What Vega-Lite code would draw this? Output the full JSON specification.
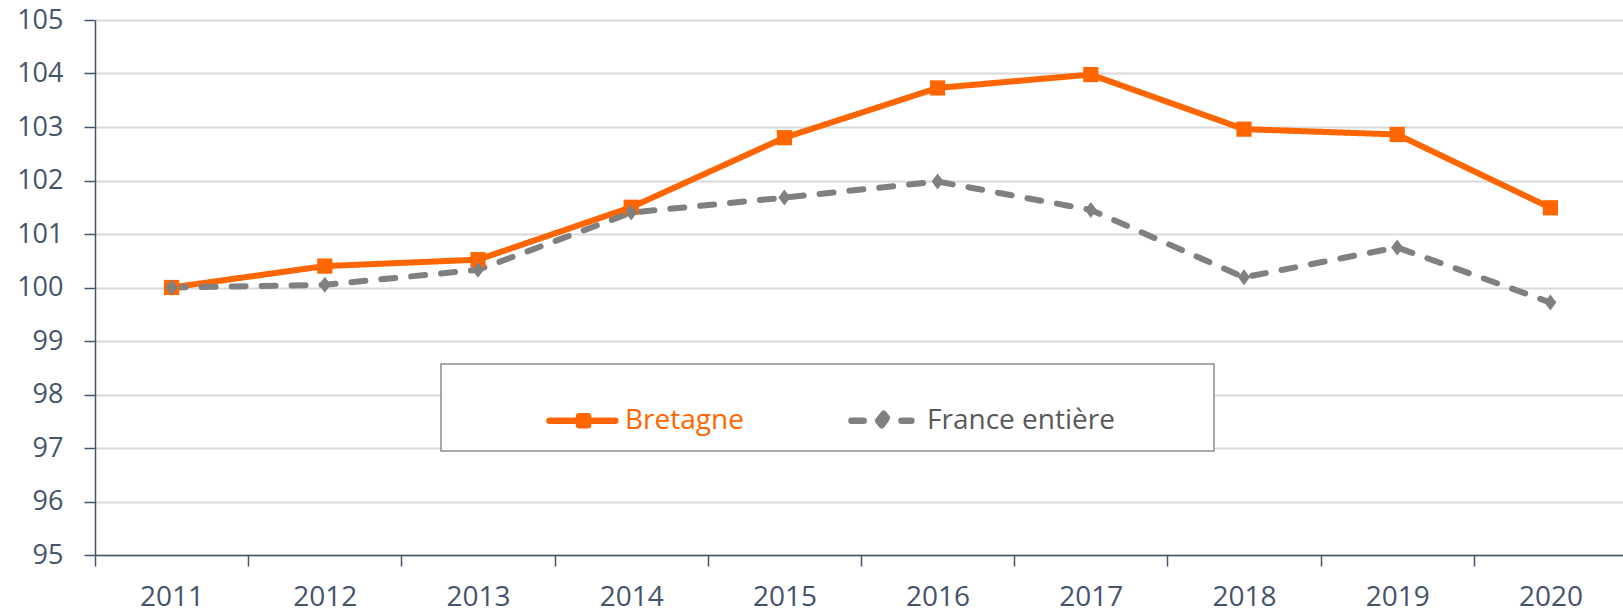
{
  "$schema": "https://vega.github.io/schema/vega-lite/v6.json",
  "autosize": {"type": "none"},
  "padding": {"left": 95, "top": 20, "right": 0, "bottom": 54},
  "width": 1532,
  "height": 535,
  "background": "white",
  "config": {
    "view": {"stroke": null},
    "font": "Open Sans",
    "axis": {"labelFont": "Open Sans", "labelFontSize": 26, "labelColor": "#44546A", "domainColor": "#44546A", "tickColor": "#44546A", "domainWidth": 1.5, "tickWidth": 1.5, "title": null}
  },
  "data": {
    "values": [
      {"year": "2011", "series": "Bretagne", "value": 100.0},
      {"year": "2012", "series": "Bretagne", "value": 100.4},
      {"year": "2013", "series": "Bretagne", "value": 100.52},
      {"year": "2014", "series": "Bretagne", "value": 101.5},
      {"year": "2015", "series": "Bretagne", "value": 102.8},
      {"year": "2016", "series": "Bretagne", "value": 103.73},
      {"year": "2017", "series": "Bretagne", "value": 103.98},
      {"year": "2018", "series": "Bretagne", "value": 102.96},
      {"year": "2019", "series": "Bretagne", "value": 102.86},
      {"year": "2020", "series": "Bretagne", "value": 101.49},
      {"year": "2011", "series": "France entière", "value": 100.0},
      {"year": "2012", "series": "France entière", "value": 100.05},
      {"year": "2013", "series": "France entière", "value": 100.33},
      {"year": "2014", "series": "France entière", "value": 101.4},
      {"year": "2015", "series": "France entière", "value": 101.68},
      {"year": "2016", "series": "France entière", "value": 101.98},
      {"year": "2017", "series": "France entière", "value": 101.45},
      {"year": "2018", "series": "France entière", "value": 100.19},
      {"year": "2019", "series": "France entière", "value": 100.75},
      {"year": "2020", "series": "France entière", "value": 99.72}
    ]
  },
  "encoding": {
    "x": {
      "field": "year", "type": "ordinal", "bandPosition": 0.5,
      "scale": {"type": "band", "paddingInner": 0, "paddingOuter": 0},
      "axis": {"labelAngle": 0, "tickBand": "extent", "tickSize": 11, "labelPadding": 17, "labelFontSize": 28, "grid": false}
    },
    "y": {
      "field": "value", "type": "quantitative",
      "scale": {"domain": [95, 105], "nice": false, "zero": false},
      "axis": {"values": [95, 96, 97, 98, 99, 100, 101, 102, 103, 104, 105], "tickSize": 11, "labelPadding": 21, "labelFontSize": 27, "grid": true, "gridColor": "#D9D9D9", "gridWidth": 1.8}
    }
  },
  "layer": [
    {
      "mark": {"type": "line", "strokeWidth": 6, "strokeCap": "round", "strokeJoin": "round"},
      "encoding": {
        "color": {
          "field": "series", "type": "nominal",
          "scale": {"domain": ["Bretagne", "France entière"], "range": ["#FF6600", "#808080"]},
          "legend": {
            "title": null,
            "orient": "none",
            "legendX": 346,
            "legendY": 344,
            "direction": "horizontal",
            "padding": 16,
            "symbolOffset": 86,
            "columnPadding": 15,
            "symbolSize": 5476,
            "labelOffset": 1,
            "labelLimit": 500,
            "labelFont": "Open Sans",
            "labelFontSize": 28,
            "strokeColor": "#8C8C8C",
            "fillColor": "white",
            "encode": {
              "legend": {"update": {"strokeWidth": {"value": 1.5}}},
              "symbols": {"update": {
                "shape": {"signal": "datum.value === 'Bretagne' ? 'M-0.92,0H0.86M-0.12,-0.12H0.12V0.12H-0.12Z' : 'M-0.92,0H-0.59M0.43,0H0.7M-0.2,0L-0.05,-0.19L0.1,0L-0.05,0.19ZM8.35,0'"},
                "fill": {"signal": "datum.value === 'Bretagne' ? '#FF6600' : '#808080'"},
                "stroke": {"signal": "datum.value === 'Bretagne' ? '#FF6600' : '#808080'"},
                "strokeWidth": {"value": 6.5},
                "strokeCap": {"value": "round"},
                "strokeJoin": {"value": "round"},
                "strokeDash": {"value": []},
                "opacity": {"value": 1}
              }},
              "labels": {"update": {"fill": {"signal": "datum.value === 'Bretagne' ? '#FF6600' : '#595959'"}}}
            }
          }
        },
        "strokeDash": {
          "field": "series", "type": "nominal",
          "scale": {"domain": ["Bretagne", "France entière"], "range": [[1, 0], [14, 16]]},
          "legend": null
        }
      }
    },
    {
      "transform": [{"filter": "datum.series === 'Bretagne'"}],
      "mark": {"type": "point", "filled": true, "opacity": 1, "size": 256, "shape": "M-0.95,-0.95H0.95V0.95H-0.95Z"},
      "encoding": {
        "color": {"field": "series", "type": "nominal"}
      }
    },
    {
      "transform": [{"filter": "datum.series === 'France entière'"}],
      "mark": {"type": "point", "filled": true, "opacity": 1, "size": 256, "shape": "M-0.75,0L0,-1L0.75,0L0,1Z"},
      "encoding": {
        "color": {"field": "series", "type": "nominal"}
      }
    }
  ]
}
